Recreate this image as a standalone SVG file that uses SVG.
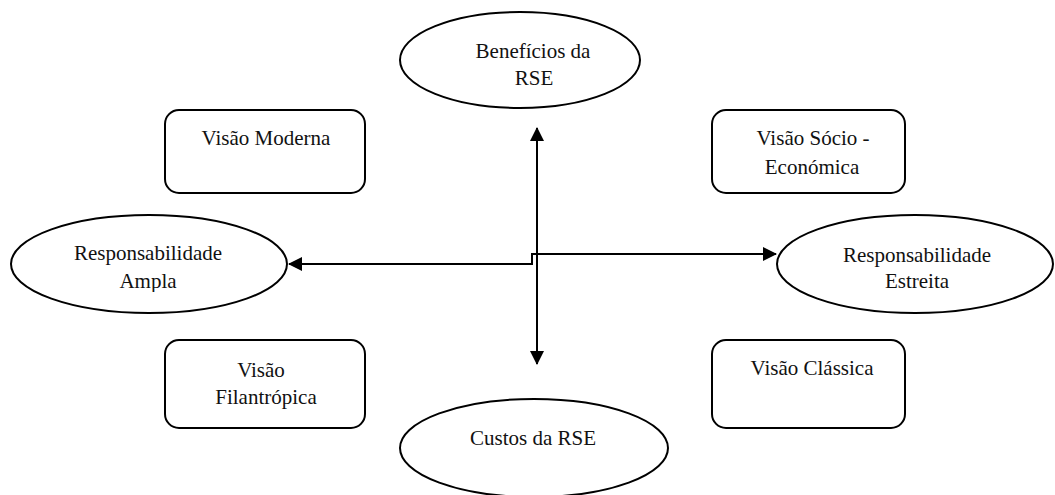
<svg xmlns="http://www.w3.org/2000/svg" width="1055" height="495" viewBox="0 0 1055 495">
  <defs>
    <style>
      .node { fill: #ffffff; stroke: #000000; stroke-width: 2; }
      .label { font-family: "Liberation Serif", "Times New Roman", serif; font-size: 21px; fill: #111111; text-anchor: middle; }
      .link { fill: none; stroke: #000000; stroke-width: 2; }
    </style>
    <marker id="head" viewBox="0 0 14 14" refX="13" refY="7" markerWidth="14" markerHeight="14" markerUnits="userSpaceOnUse" orient="auto-start-reverse">
      <path d="M0,0 L14,7 L0,14 Z" fill="#000000"/>
    </marker>
    <clipPath id="clipAmpla">
      <rect x="0" y="200" width="320" height="92"/>
    </clipPath>
  </defs>
  <rect width="1055" height="495" fill="#ffffff"/>

  <!-- connectors -->
  <g id="connectors">
    <line class="link" x1="537" y1="128" x2="537" y2="364" marker-start="url(#head)" marker-end="url(#head)"/>
    <polyline class="link" points="289,264 532,264 532,254 776,254" marker-start="url(#head)" marker-end="url(#head)"/>
  </g>

  <g id="beneficios">
    <ellipse class="node" cx="520" cy="60" rx="120" ry="48"/>
    <text class="label" x="533" y="58">Benefícios da</text>
    <text class="label" x="534" y="85">RSE</text>
  </g>

  <g id="visao-moderna">
    <rect class="node" x="165" y="110" width="200" height="83" rx="14"/>
    <text class="label" x="266" y="145">Visão Moderna</text>
  </g>

  <g id="visao-socio-economica">
    <rect class="node" x="712" y="110" width="193" height="83" rx="14"/>
    <text class="label" x="813" y="145">Visão Sócio -</text>
    <text class="label" x="812" y="174">Económica</text>
  </g>

  <g id="resp-ampla">
    <ellipse class="node" cx="149" cy="264" rx="138" ry="49"/>
    <text class="label" x="148" y="260">Responsabilidade</text>
    <text class="label" x="148" y="288" clip-path="url(#clipAmpla)">Ampla</text>
  </g>

  <g id="resp-estreita">
    <ellipse class="node" cx="915" cy="264" rx="138" ry="49"/>
    <text class="label" x="917" y="262">Responsabilidade</text>
    <text class="label" x="917" y="288">Estreita</text>
  </g>

  <g id="visao-filantropica">
    <rect class="node" x="165" y="340" width="200" height="88" rx="14"/>
    <text class="label" x="261" y="377">Visão</text>
    <text class="label" x="266" y="404">Filantrópica</text>
  </g>

  <g id="visao-classica">
    <rect class="node" x="712" y="340" width="193" height="88" rx="14"/>
    <text class="label" x="812" y="375">Visão Clássica</text>
  </g>

  <g id="custos">
    <ellipse class="node" cx="534" cy="448" rx="134" ry="49"/>
    <text class="label" x="533" y="445">Custos da RSE</text>
  </g>
</svg>
